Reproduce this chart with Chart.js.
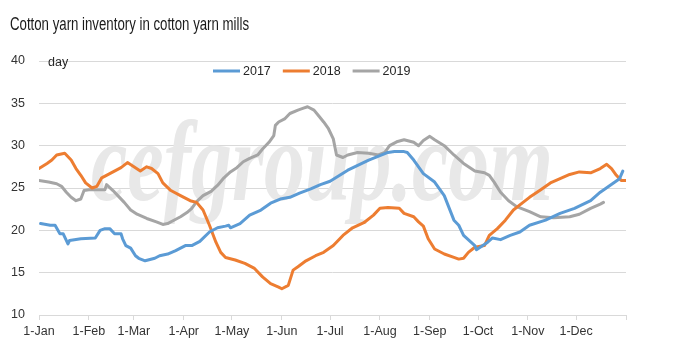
<!DOCTYPE html>
<html><head><meta charset="utf-8">
<script src="https://cdn.jsdelivr.net/npm/chart.js@4/dist/chart.umd.min.js"></script>
<style>html,body{margin:0;padding:0;background:#fff}#wrap{width:681px;height:359px;position:relative}</style>
</head><body><div id="wrap"><canvas id="c" width="681" height="359"></canvas></div>
<script>
const chartTitle = 'Cotton yarn inventory in cotton yarn mills';
const unitLabel = 'day';
const watermark = 'cefgroup.com';
const seriesNames = ['2017', '2018', '2019'];
const monthStartDays = [0, 31, 59, 90, 120, 151, 181, 212, 243, 273, 304, 334, 365];
const monthLabels = ['1-Jan','1-Feb','1-Mar','1-Apr','1-May','1-Jun','1-Jul','1-Aug','1-Sep','1-Oct','1-Nov','1-Dec',''];
const yTicks = [10, 15, 20, 25, 30, 35, 40];

const days2017 = [1,7,10,13,15,18,19,26,35,38,41,44,47,51,52,54,57,60,62,66,72,75,80,85,91,95,100,106,111,116,118,119,125,131,138,144,150,156,162,169,175,181,192,205,217,221,227,229,233,239,246,252,258,261,264,271,272,279,282,287,293,299,305,315,324,333,343,349,355,361,363];
const vals2017 = [20.8,20.6,20.6,19.6,19.6,18.4,18.8,19.0,19.1,20.0,20.2,20.2,19.6,19.6,19.0,18.2,17.9,17.0,16.7,16.4,16.7,17.0,17.2,17.6,18.2,18.2,18.7,19.8,20.3,20.5,20.6,20.3,20.8,21.8,22.4,23.2,23.7,23.9,24.4,24.9,25.4,25.8,27.1,28.3,29.2,29.3,29.3,29.2,28.3,26.7,25.7,24.1,21.2,20.6,19.4,18.2,17.7,18.6,19.1,18.9,19.4,19.8,20.6,21.2,22.0,22.6,23.5,24.5,25.3,26.1,27.0];

const days2018 = [0,5,8,11,16,20,23,26,29,33,36,39,44,51,55,59,63,67,70,74,77,82,88,94,98,102,106,110,113,116,122,128,134,139,144,149,151,155,158,161,166,172,177,183,189,195,202,208,212,217,224,227,233,236,239,242,246,252,258,261,264,267,271,277,280,285,290,295,299,305,312,318,324,330,336,343,349,353,356,359,362,365];
const vals2018 = [27.3,27.9,28.3,28.9,29.1,28.3,27.3,26.5,25.6,25.0,25.2,26.2,26.7,27.4,28.0,27.5,27.0,27.5,27.3,26.7,25.6,24.7,24.1,23.5,23.3,22.4,20.6,18.6,17.4,16.8,16.5,16.1,15.5,14.5,13.7,13.3,13.1,13.5,15.3,15.7,16.4,17.0,17.4,18.2,19.4,20.3,20.9,21.8,22.6,22.7,22.6,22.0,21.6,21.0,20.5,19.0,17.8,17.2,16.8,16.6,16.7,17.4,18.0,18.2,19.4,20.2,21.2,22.4,23.0,23.9,24.8,25.6,26.1,26.6,26.9,26.8,27.3,27.8,27.3,26.5,25.9,25.9];

const days2019 = [0,6,11,14,17,20,23,26,28,31,41,42,46,49,53,57,61,67,73,77,80,83,88,92,95,98,102,107,111,115,119,123,127,131,136,139,143,146,147,149,153,156,161,164,167,171,174,177,180,183,185,189,192,198,205,211,215,218,223,227,233,236,239,243,246,252,258,264,271,277,280,283,287,292,297,305,312,320,330,336,343,349,351];
const vals2019 = [25.9,25.7,25.5,25.2,24.5,23.9,23.5,23.7,24.7,24.8,24.8,25.4,24.7,24.1,23.3,22.4,21.9,21.4,21.0,20.7,20.8,21.1,21.6,22.1,22.6,23.4,24.1,24.6,25.3,26.2,26.9,27.4,28.1,28.5,28.9,29.6,30.4,31.2,32.4,32.8,33.2,33.8,34.2,34.4,34.6,34.2,33.5,32.8,32.0,30.8,28.9,28.6,28.9,29.2,29.1,28.9,29.2,30.0,30.5,30.7,30.4,30.0,30.6,31.1,30.7,30.0,28.9,27.9,27.0,26.8,26.5,25.7,24.5,23.5,22.8,22.2,21.6,21.5,21.6,21.9,22.6,23.1,23.3];

const colors = ['#5B9BD5', '#ED7D31', '#A5A5A5'];
const FONT = "'Liberation Sans Narrow', 'Arial Narrow', 'Liberation Sans', sans-serif";

function pts(d, v) { return d.map((x, i) => ({ x: x, y: v[i] })); }

const decor = {
  id: 'decor',
  beforeDatasetsDraw(chart) {
    const ctx = chart.ctx;
    ctx.save();
    ctx.font = "italic bold 115px 'Liberation Serif', serif";
    const w = ctx.measureText(watermark).width;
    ctx.translate(91, 200);
    ctx.scale(462 / w, 1);
    ctx.fillStyle = '#e8e8e8';
    ctx.textBaseline = 'alphabetic';
    ctx.fillText(watermark, 0, 0);
    ctx.restore();
  },
  afterDraw(chart) {
    const ctx = chart.ctx;
    ctx.save();
    ctx.fillStyle = '#1a1a1a';
    ctx.font = '18px ' + FONT;
    ctx.textBaseline = 'alphabetic';
    ctx.textAlign = 'left';
    const tw = ctx.measureText(chartTitle).width;
    ctx.save();
    ctx.translate(10, 30);
    ctx.scale(Math.min(1, 239 / tw), 1);
    ctx.fillText(chartTitle, 0, 0);
    ctx.restore();
    ctx.font = '12.5px ' + FONT;
    ctx.fillStyle = '#262626';
    ctx.fillText(unitLabel, 48, 66);
    // legend
    let x = 213;
    const y = 71;
    ctx.textBaseline = 'middle';
    chart.data.datasets.forEach((ds) => {
      ctx.strokeStyle = ds.borderColor;
      ctx.lineWidth = 3;
      ctx.beginPath();
      ctx.moveTo(x, y);
      ctx.lineTo(x + 27, y);
      ctx.stroke();
      x += 30;
      ctx.fillStyle = '#262626';
      ctx.fillText(ds.label, x, y + 1);
      x += ctx.measureText(ds.label).width + 12;
    });
    ctx.restore();
  }
};

new Chart(document.getElementById('c'), {
  type: 'line',
  data: {
    datasets: [
      { label: seriesNames[0], data: pts(days2017, vals2017), borderColor: colors[0], backgroundColor: colors[0] },
      { label: seriesNames[1], data: pts(days2018, vals2018), borderColor: colors[1], backgroundColor: colors[1] },
      { label: seriesNames[2], data: pts(days2019, vals2019), borderColor: colors[2], backgroundColor: colors[2] }
    ]
  },
  options: {
    responsive: false,
    devicePixelRatio: 1,
    animation: false,
    layout: { padding: { left: 0, right: 55, top: 61, bottom: 0 } },
    elements: {
      point: { radius: 0, hoverRadius: 0 },
      line: { borderWidth: 3, tension: 0, borderJoinStyle: 'round', borderCapStyle: 'round', fill: false }
    },
    plugins: { legend: { display: false }, title: { display: false }, tooltip: { enabled: false } },
    scales: {
      x: {
        type: 'linear', min: 0, max: 365,
        afterBuildTicks(scale) { scale.ticks = monthStartDays.map(v => ({ value: v })); },
        afterFit(scale) { scale.height = 44; },
        grid: { drawOnChartArea: false, drawTicks: true, tickLength: 5, color: '#d9d9d9', lineWidth: 1 },
        border: { display: true, color: '#d9d9d9', width: 1 },
        ticks: {
          autoSkip: false, maxRotation: 0, padding: 4, color: '#333333',
          font: { family: FONT, size: 12.5 },
          callback: (v, i) => monthLabels[i]
        }
      },
      y: {
        min: 10, max: 40,
        afterBuildTicks(scale) { scale.ticks = yTicks.map(v => ({ value: v })); },
        afterFit(scale) { scale.width = 39; },
        grid: { drawTicks: false, color: '#d9d9d9', lineWidth: 1 },
        border: { display: false },
        ticks: { padding: 14, color: '#333333', font: { family: FONT, size: 12.5 } }
      }
    }
  },
  plugins: [decor]
});
</script>
</body></html>
